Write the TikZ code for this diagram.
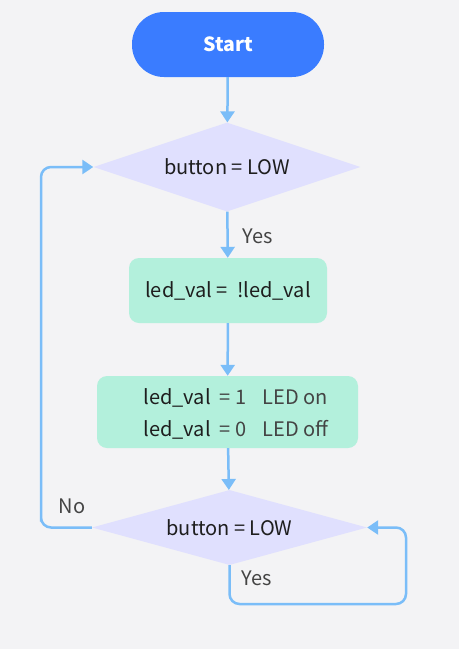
\documentclass[tikz,border=0pt]{standalone}
\usepackage{fontspec}
\setmainfont{Noto Sans CJK SC}
\usetikzlibrary{arrows.meta,shapes.geometric}
\definecolor{bgcol}{HTML}{F3F3F5}
\definecolor{startcol}{HTML}{3A7CFF}
\definecolor{deccol}{HTML}{E0E0FE}
\definecolor{boxcol}{HTML}{B3F0DC}
\definecolor{linecol}{HTML}{7ABDF8}
\definecolor{txtcol}{HTML}{1E1E1E}
\definecolor{labcol}{HTML}{444444}
\begin{document}
\begin{tikzpicture}[x=1pt,y=-1pt,
  terminal/.style={draw=none,fill=startcol,rounded corners=32pt,minimum width=192pt,minimum height=65pt,text=white,font=\fontsize{19.5}{22}\selectfont\bfseries},
  decision/.style={diamond,draw=none,fill=deccol,inner sep=0pt,shape aspect=3.3,text=txtcol,font=\fontsize{20}{22}\selectfont},
  process/.style={draw=none,fill=boxcol,rounded corners=10pt,text=txtcol,font=\fontsize{20}{22}\selectfont},
  flow/.style={draw=linecol,line width=2.5pt,rounded corners=10pt,-{Triangle[length=11pt,width=14pt]}},
  lab/.style={text=labcol,font=\fontsize{20}{22}\selectfont}]
\fill[bgcol] (0,0) rectangle (459,649);
\useasboundingbox (0,0) rectangle (459,649);
% nodes
\node[terminal] (start) at (228,44.5) {Start};
\node[decision,minimum width=267pt,minimum height=89pt] (dec1) at (227,167) {button = LOW};
\node[process,minimum width=198pt,minimum height=65pt] (toggle) at (228,290.5) {led\_val = \ !led\_val};
\node[process,minimum width=261pt,minimum height=72pt] (write) at (227.5,412) {};
\node[text=txtcol,font=\fontsize{20}{22}\selectfont] (writetext) at ([xshift=8.5pt,yshift=-4pt]write.center)
  {\begin{tabular}{@{}l@{\hspace{9pt}}l@{\hspace{16pt}}l@{}}
   led\_val & \textcolor{labcol}{= 1} & \textcolor{labcol}{LED on}\\[9pt]
   led\_val & \textcolor{labcol}{= 0} & \textcolor{labcol}{LED off}
   \end{tabular}};
\node[decision,minimum width=275pt,minimum height=75pt] (dec2) at (229.5,527.5) {button = LOW};
\coordinate (nocorner) at (41,0);
\coordinate (yescorner) at (406,604);
% connectors
\draw[flow] (start) -- (dec1);
\draw[flow] (dec1) -- (toggle);
\draw[flow] (toggle) -- (write);
\draw[flow] (write) -- (dec2);
\draw[flow] (dec2.west) -| (nocorner |- dec2.west) |- (dec1.west);
\draw[flow] (dec2.south) |- (yescorner) |- (dec2.east);
\node[lab] (yeslab1) at (257.5,236) {Yes};
\node[lab] (nolab) at (72,506) {No};
\node[lab] (yeslab2) at (257,578) {Yes};
\end{tikzpicture}
\end{document}
